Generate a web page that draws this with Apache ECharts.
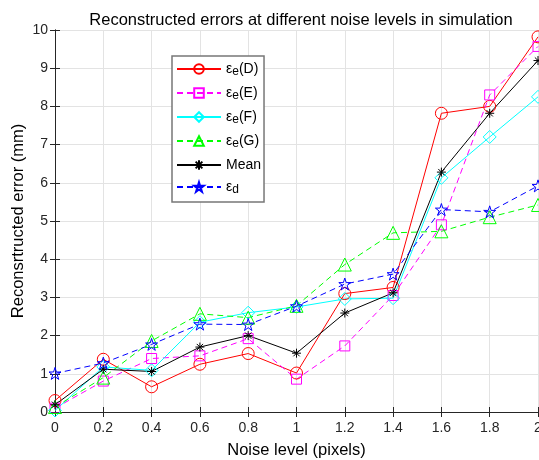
<!DOCTYPE html>
<html>
<head>
<meta charset="utf-8">
<script src="https://cdn.jsdelivr.net/npm/echarts@6/dist/echarts.min.js"></script>
<style>
  html, body { margin: 0; padding: 0; background: #fff; }
  #main { width: 539px; height: 460px; }
</style>
</head>
<body>
<div id="main"></div>
<script>
// data
var noiseLevels = [0, 0.2, 0.4, 0.6, 0.8, 1.0, 1.2, 1.4, 1.6, 1.8, 2.0];
var errD    = [0.30, 1.38, 0.66, 1.25, 1.53, 1.02, 3.10, 3.26, 7.82, 8.00, 9.82];
var errE    = [0.10, 0.81, 1.40, 1.47, 1.92, 0.86, 1.73, 3.05, 4.90, 8.30, 9.57];
var errF    = [0.04, 1.18, 1.09, 2.35, 2.60, 2.75, 2.96, 2.98, 6.13, 7.20, 8.25];
var errG    = [0.13, 0.90, 1.86, 2.57, 2.47, 2.78, 3.86, 4.69, 4.73, 5.10, 5.42];
var errMean = [0.19, 1.12, 1.06, 1.70, 2.00, 1.54, 2.59, 3.12, 6.28, 7.82, 9.20];
var errDist = [1.01, 1.28, 1.77, 2.30, 2.29, 2.77, 3.35, 3.61, 5.30, 5.24, 5.92];

var starPath = 'path://M100,0L122.45,69.1L195.1,69.1L136.3,111.8L158.8,180.9L100,138.2L41.2,180.9L63.7,111.8L4.9,69.1L77.55,69.1Z';
var asteriskPath = 'path://M0,-10L0,10M-10,0L10,0M-7,-7L7,7M-7,7L7,-7';

function pairs(ys) {
  return noiseLevels.map(function (x, i) { return [x, ys[i]]; });
}

function mkSeries(name, ys, color, dashed, symbol, size) {
  return {
    name: name,
    type: 'line',
    data: pairs(ys),
    symbol: symbol,
    symbolSize: size,
    lineStyle: { color: color, width: 1, type: dashed ? [6, 4] : 'solid' },
    itemStyle: { color: 'rgba(255,255,255,0)', borderColor: color, borderWidth: 1 },
    emphasis: { disabled: true },
    animation: false
  };
}

var legendText = {
  D: '{n|ε}{s|e}{n|(D)}',
  E: '{n|ε}{s|e}{n|(E)}',
  F: '{n|ε}{s|e}{n|(F)}',
  G: '{n|ε}{s|e}{n|(G)}',
  Mean: '{n|Mean}',
  d: '{n|ε}{s|d}'
};

var fmt = function (v) { return String(Math.round(v * 10) / 10); };
var axisCol = '#262626';
var font = 'Liberation Sans';

var chart = echarts.init(document.getElementById('main'));
var meanSeries = mkSeries('Mean', errMean, '#000', false, asteriskPath, 9);
meanSeries.itemStyle = { color: '#000', borderColor: '#000', borderWidth: 1 };

chart.setOption({
  animation: false,
  title: {
    text: 'Reconstructed errors at different noise levels in simulation',
    left: 296, top: 7, textAlign: 'center',
    textStyle: { fontFamily: font, fontSize: 16.5, fontWeight: 'normal', color: '#000' }
  },
  grid: { left: 55, right: 1, top: 30, bottom: 48, outerBoundsMode: 'none' },
  legend: {
    orient: 'vertical',
    left: 172, top: 56,
    itemWidth: 44, itemHeight: 12, itemGap: 8,
    padding: [6, 3, 6, 4],
    backgroundColor: '#fff',
    borderColor: '#777', borderWidth: 1.5,
    formatter: function (name) { return legendText[name]; },
    textStyle: {
      fontFamily: font, color: '#000',
      rich: {
        n: { fontFamily: font, fontSize: 14, lineHeight: 18, color: '#000' },
        s: { fontFamily: font, fontSize: 12, lineHeight: 8, verticalAlign: 'bottom', color: '#000' }
      }
    },
    data: ['D', 'E', 'F', 'G', 'Mean', 'd']
  },
  xAxis: [{
    type: 'value', min: 0, max: 2, interval: 0.2,
    name: 'Noise level (pixels)', nameLocation: 'middle', nameGap: 30,
    nameMoveOverlap: false,
    nameTextStyle: { fontFamily: font, fontSize: 16.5, color: '#000' },
    axisLine: { lineStyle: { color: axisCol, width: 1 } },
    axisTick: { inside: true, length: 5, lineStyle: { color: axisCol } },
    axisLabel: { formatter: fmt, fontFamily: font, fontSize: 14, color: axisCol, margin: 9 },
    splitLine: { show: true, lineStyle: { color: '#e3e3e3' } }
  }, {
    type: 'value', position: 'top', min: 0, max: 2, interval: 0.2,
    axisLine: { lineStyle: { color: axisCol, width: 1 } },
    axisTick: { inside: true, length: 5, lineStyle: { color: axisCol } },
    axisLabel: { show: false }, splitLine: { show: false }
  }],
  yAxis: [{
    type: 'value', min: 0, max: 10, interval: 1,
    name: 'Reconsrtructed error (mm)', nameLocation: 'middle', nameGap: 28,
    nameMoveOverlap: false,
    nameTextStyle: { fontFamily: font, fontSize: 16.5, color: '#000' },
    axisLine: { show: true, lineStyle: { color: axisCol, width: 1 } },
    axisTick: { show: true, inside: true, length: 5, lineStyle: { color: axisCol } },
    axisLabel: { fontFamily: font, fontSize: 14, color: axisCol, margin: 7 },
    splitLine: { show: true, lineStyle: { color: '#e3e3e3' } }
  }, {
    type: 'value', position: 'right', min: 0, max: 10, interval: 1,
    axisLine: { show: true, lineStyle: { color: axisCol, width: 1 } },
    axisTick: { show: true, inside: true, length: 5, lineStyle: { color: axisCol } },
    axisLabel: { show: false }, splitLine: { show: false }
  }],
  series: [
    mkSeries('D', errD, '#ff0000', false, 'circle', 12),
    mkSeries('E', errE, '#ff00ff', true, 'rect', 10),
    mkSeries('F', errF, '#00ffff', false, 'diamond', 13),
    mkSeries('G', errG, '#00ff00', true, 'triangle', 13),
    meanSeries,
    mkSeries('d', errDist, '#0000ff', true, starPath, 12)
  ]
});
</script>
</body>
</html>
